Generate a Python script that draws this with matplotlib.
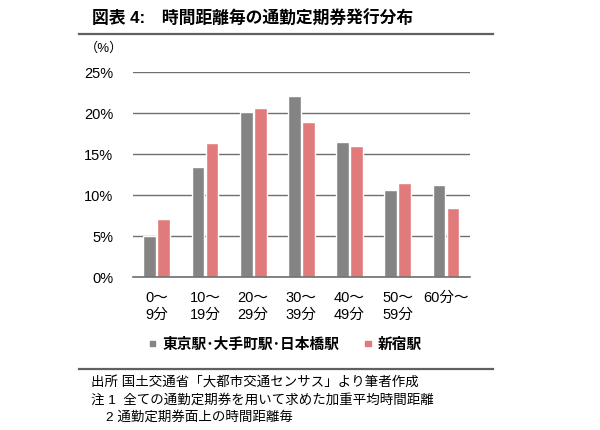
import numpy as np
import matplotlib
matplotlib.use("Agg")
import matplotlib.pyplot as plt
from matplotlib.lines import Line2D
from matplotlib.patches import Patch

# フォント設定（欧文はArial系、和文はNoto Sans CJK JP）
plt.rcParams["font.family"] = ["Liberation Sans", "Noto Sans CJK JP", "DejaVu Sans"]

# === データ ===
categories = ["0～\n9分", "10～\n19分", "20～\n29分", "30～\n39分",
              "40～\n49分", "50～\n59分", "60分～"]
tokyo = [5.0, 13.4, 20.1, 22.15, 16.5, 10.7, 11.2]   # 東京駅・大手町駅・日本橋駅
shinjuku = [7.15, 16.4, 20.7, 18.9, 16.0, 11.5, 8.45]  # 新宿駅
yticks = [0, 5, 10, 15, 20, 25]
series_names = ["東京駅･大手町駅･日本橋駅", "新宿駅"]

GRAY = "#848484"
RED = "#e07a7b"
LINE = "#6f6f6f"

fig = plt.figure(figsize=(6.0, 4.3), dpi=100)
ax = fig.add_axes([132.7 / 600, 1 - 277.3 / 430, (470 - 132.7) / 600, (277.3 - 72.3) / 430])

x = np.arange(len(categories))
w = 0.265
ax.bar(x - 0.145, tokyo, w, color=GRAY, edgecolor="white", linewidth=1.0, zorder=3)
ax.bar(x + 0.145, shinjuku, w, color=RED, edgecolor="white", linewidth=1.0, zorder=3)

ax.set_xlim(-0.5, len(categories) - 0.5)
ax.set_ylim(0, 25)
ax.set_yticks(yticks)
ax.set_yticklabels([f"{v}%" for v in yticks], fontsize=10.5)
ax.set_xticks(x)
ax.set_xticklabels(categories, fontsize=10.5, multialignment="left", linespacing=1.25)
ax.tick_params(axis="y", length=0, pad=14)
ax.tick_params(axis="x", length=0, pad=10)
ax.yaxis.grid(True, color=LINE, linewidth=1.0, zorder=1)
ax.set_axisbelow(True)
for s in ["top", "right", "left"]:
    ax.spines[s].set_visible(False)
ax.spines["bottom"].set_color(LINE)
ax.spines["bottom"].set_linewidth(1.2)
ax.spines["bottom"].set_zorder(4)

# タイトルと区切り線
fig.text(92 / 600, 1 - 18 / 430, "図表 4:　時間距離毎の通勤定期券発行分布",
         fontsize=12.1, fontweight="bold", ha="left", va="center")
fig.add_artist(Line2D([79 / 600, 493 / 600], [1 - 33.5 / 430] * 2,
                      color="#606060", linewidth=1.6, transform=fig.transFigure))
fig.text(123 / 600, 1 - 48 / 430, "（%）", fontsize=9.5, ha="right", va="center")

# 凡例（小さな正方形マーカー）
handles = [Patch(color=GRAY), Patch(color=RED)]
fig.legend(handles, series_names, loc="center", bbox_to_anchor=(286 / 600, 1 - 345 / 430),
           ncol=2, frameon=False, handlelength=0.36, handleheight=0.17,
           handletextpad=0.5, columnspacing=1.75,
           prop={"weight": "bold", "size": 10.6})

fig.add_artist(Line2D([79 / 600, 493 / 600], [1 - 369 / 430] * 2,
                      color="#606060", linewidth=1.6, transform=fig.transFigure))

# 注記
notes = ["出所 国土交通省「大都市交通センサス」より筆者作成",
         "注 1  全ての通勤定期券を用いて求めた加重平均時間距離",
         "    2 通勤定期券面上の時間距離毎"]
for i, t in enumerate(notes):
    fig.text(91 / 600, 1 - (383 + 17 * i) / 430, t, fontsize=9.7, ha="left", va="center")

fig.savefig("out.png", dpi=100)
